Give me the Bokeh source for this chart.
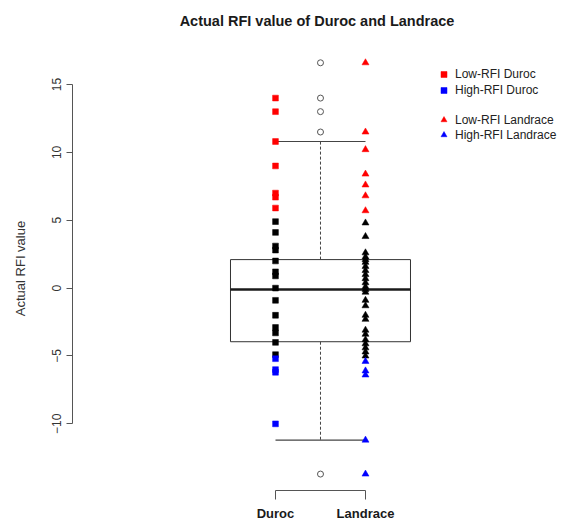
from bokeh.plotting import figure
from bokeh.models import Range1d, FixedTicker, Legend, LegendItem
from bokeh.embed import file_html
from bokeh.resources import INLINE

# ---- data ----
categories = ["Duroc", "Landrace"]
y_ticks = [-10, -5, 0, 5, 10, 15]

duroc_low = [14.0, 13.0, 10.8, 9.0, 7.0, 6.7, 5.9]
duroc_mid = [4.9, 4.1, 3.1, 2.8, 2.0, 1.2, 0.9, 0.0, -0.9, -2.0, -2.9, -3.3, -4.0, -4.9]
duroc_high = [-5.2, -6.0, -6.2, -10.0]

landrace_low = [16.6, 11.5, 10.2, 8.4, 7.6, 6.8, 5.7]
landrace_mid = [4.8, 3.8, 2.6, 2.3, 2.1, 1.9, 1.6, 1.3, 1.0, 0.7, 0.4, 0.1, -0.1, -0.3,
                -0.9, -1.3, -2.0, -2.3, -3.1, -3.4, -3.8, -4.1, -4.4, -4.7, -5.0]
landrace_high = [-5.4, -6.1, -6.4, -11.2, -13.7]

# combined boxplot: lower whisker, Q1, median, Q3, upper whisker
box_stats = [-11.2, -3.95, -0.1, 2.1, 10.8]
outliers = [16.6, 14.0, 13.0, 11.5, -13.7]

FONT = "Liberation Sans"
X_D, X_L, X_BOX = 1, 2, 1.5
BOX_HALF = 1.0

p = figure(width=561, height=523, output_backend="svg", toolbar_location=None,
           x_range=Range1d(-1.2556, 4.178), y_range=Range1d(-14.91, 17.8),
           min_border_left=72, min_border_right=0, min_border_top=46,
           min_border_bottom=30)
p.outline_line_color = None
p.grid.visible = False
p.background_fill_color = "white"

p.title.text = "Actual RFI value of Duroc and Landrace\n"
p.title.align = "center"
p.title.text_font = FONT
p.title.text_font_size = "14.5px"
p.title.text_font_style = "bold"
p.title.text_color = "#1a1a1a"
p.title.standoff = 4

# ---- boxplot ----
lw, q1, med, q3, uw = box_stats
p.quad(left=[X_BOX - BOX_HALF], right=[X_BOX + BOX_HALF], bottom=[q1], top=[q3],
       fill_color=None, line_color="#333333", line_width=1)
p.segment(x0=[X_BOX, X_BOX], x1=[X_BOX, X_BOX], y0=[q3, q1], y1=[uw, lw],
          line_color="#444444", line_width=1, line_dash="3 2")
p.segment(x0=[X_D, X_D], x1=[X_L, X_L], y0=[uw, lw], y1=[uw, lw],
          line_color="#444444", line_width=1.2)
p.segment(x0=[X_BOX - BOX_HALF], x1=[X_BOX + BOX_HALF], y0=[med], y1=[med],
          line_color="#1a1a1a", line_width=2.6)
p.scatter(x=[X_BOX] * len(outliers), y=outliers, marker="circle", size=6,
          fill_color=None, line_color="#555555", line_width=1)

# ---- points ----
def pts(vals, x, marker, color, size):
    return p.scatter(x=[x] * len(vals), y=vals, marker=marker, size=size,
                     fill_color=color, line_color=color, line_width=0.5)

r_dl = pts(duroc_low, X_D, "square", "#ff0000", 5.8)
pts(duroc_mid, X_D, "square", "#000000", 5.8)
r_dh = pts(duroc_high, X_D, "square", "#0000ff", 5.8)
r_ll = pts(landrace_low, X_L, "triangle", "#ff0000", 7)
pts(landrace_mid, X_L, "triangle", "#000000", 7)
r_lh = pts(landrace_high, X_L, "triangle", "#0000ff", 7)

# ---- axes ----
xa = p.xaxis[0]
xa.ticker = FixedTicker(ticks=[X_D, X_L])
xa.major_label_overrides = {X_D: categories[0], X_L: categories[1]}
xa.bounds = (X_D, X_L)
xa.minor_tick_line_color = None
xa.major_tick_in = 0
xa.major_tick_out = 9
xa.major_label_standoff = 6
xa.major_label_text_font = FONT
xa.major_label_text_font_size = "13px"
xa.major_label_text_font_style = "bold"
xa.major_label_text_color = "#1a1a1a"
xa.axis_line_color = "#555555"
xa.major_tick_line_color = "#555555"

ya = p.yaxis[0]
ya.ticker = FixedTicker(ticks=y_ticks)
ya.bounds = (y_ticks[0], y_ticks[-1])
ya.minor_tick_line_color = None
ya.major_tick_in = 0
ya.major_tick_out = 6
ya.major_label_standoff = 5
ya.major_label_orientation = "vertical"
ya.major_label_text_font = FONT
ya.major_label_text_font_size = "12px"
ya.major_label_text_color = "#333333"
ya.axis_line_color = "#555555"
ya.major_tick_line_color = "#555555"
ya.axis_label = "Actual RFI value"
ya.axis_label_text_font = FONT
ya.axis_label_text_font_size = "13px"
ya.axis_label_text_font_style = "normal"
ya.axis_label_text_color = "#333333"
ya.axis_label_standoff = 22

# ---- legends ----
def make_legend(items, loc, h):
    lg = Legend(items=items, location=loc, border_line_color=None,
                background_fill_alpha=0, padding=0, margin=0, spacing=0,
                glyph_width=15, glyph_height=h, label_height=h,
                label_standoff=4, label_text_font=FONT,
                label_text_font_size="12px", label_text_color="#222222")
    p.add_layout(lg)

make_legend([LegendItem(label="Low-RFI Duroc", renderers=[r_dl]),
             LegendItem(label="High-RFI Duroc", renderers=[r_dh])], (364, 392), 16)
make_legend([LegendItem(label="Low-RFI Landrace", renderers=[r_ll]),
             LegendItem(label="High-RFI Landrace", renderers=[r_lh])], (364, 348), 15)

open("out.html", "w").write(file_html(p, INLINE))
